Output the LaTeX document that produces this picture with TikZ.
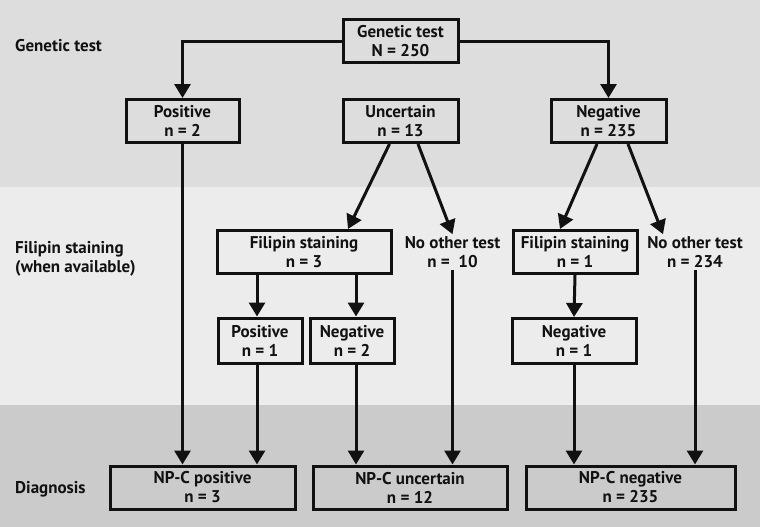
\documentclass[tikz,border=0pt]{standalone}
\usepackage{fontspec}
\setmainfont{PT Sans}
\usetikzlibrary{arrows.meta}
\definecolor{bandtop}{HTML}{DDDDDD}
\definecolor{bandmid}{HTML}{ECECEC}
\definecolor{bandlow}{HTML}{CBCBCB}
\definecolor{ink}{HTML}{111111}
\tikzset{txt/.style={font=\bfseries\fontsize{17}{19}\selectfont, text=ink}}
\tikzset{box/.style={txt, draw=ink, line width=3pt, align=center, minimum height=43pt, inner sep=1pt}}
\tikzset{loose/.style={txt, align=center, inner sep=2pt}}
\tikzset{rowlabel/.style={txt, anchor=west, align=left, inner sep=0pt}}
\tikzset{flow/.style={draw=ink, line width=3pt, -{Triangle[length=14pt,width=16pt]}}}
\begin{document}
\begin{tikzpicture}[x=1pt, y=-1pt]
  % background bands
  \fill[bandtop] (0,0) rectangle (760,187);
  \fill[bandmid] (0,187) rectangle (760,405);
  \fill[bandlow] (0,405) rectangle (760,527);
  \useasboundingbox (0,0) rectangle (760,527);
  % row labels
  \node[rowlabel] (lgen) at (15,46) {Genetic test};
  \node[rowlabel] (lfil) at (15,259) {Filipin staining\\(when available)};
  \node[rowlabel] (ldia) at (15,489) {Diagnosis};
  % genetic test
  \node[box, minimum width=115pt] (gen) at (400.5,41.5) {Genetic test\\N = 250};
  \node[box, minimum width=113pt] (pos) at (182.5,121) {Positive\\n = 2};
  \node[box, minimum width=115pt] (unc) at (400.5,121) {Uncertain\\n = 13};
  \node[box, minimum width=115pt] (neg) at (608.5,121) {Negative\\n = 235};
  % filipin staining
  \node[box, minimum width=174pt] (filA) at (304,252) {Filipin staining\\n = 3};
  \node[loose] (othA) at (452.5,252) {No other test\\n =\ \ 10};
  \node[box, minimum width=124pt] (filB) at (575,252) {Filipin staining\\n = 1};
  \node[loose] (othB) at (695,252) {No other test\\n = 234};
  \node[box, minimum width=84pt, minimum height=45pt] (posA) at (260,340.5) {Positive\\n = 1};
  \node[box, minimum width=84pt, minimum height=45pt] (negA) at (352,340.5) {Negative\\n = 2};
  \node[box, minimum width=124pt, minimum height=45pt] (negB) at (574,341) {Negative\\n = 1};
  % diagnosis
  \node[box, minimum width=185pt] (dpos) at (202.5,487.5) {NP-C positive\\n = 3};
  \node[box, minimum width=194pt] (dunc) at (410,487.5) {NP-C uncertain\\n = 12};
  \node[box, minimum width=209pt] (dneg) at (630.5,487.5) {NP-C negative\\n = 235};
  % connectors
  \draw[flow] (gen.west) -| (pos.north);
  \draw[flow] (gen.east) -| (neg.north);
  \draw[flow] ([xshift=-11pt]unc.south) -- ([xshift=44pt]filA.north);
  \draw[flow] ([xshift=17.5pt]unc.south) -- (othA.north);
  \draw[flow] ([xshift=-11.5pt]neg.south) -- ([xshift=-15pt]filB.north);
  \draw[flow] ([xshift=19.5pt]neg.south) -- ([xshift=-32pt]othB.north);
  \draw[flow] ([xshift=-47pt]filA.south) -- ([xshift=-3pt]posA.north);
  \draw[flow] ([xshift=52pt]filA.south) -- ([xshift=4pt]negA.north);
  \draw[flow] (filB.south) -- (negB.north);
  \draw[flow] (pos.south) -- (pos.south |- dpos.north);
  \draw[flow] ([xshift=-3pt]posA.south) -- ([xshift=-3pt]posA.south |- dpos.north);
  \draw[flow] ([xshift=4pt]negA.south) -- ([xshift=4pt]negA.south |- dunc.north);
  \draw[flow] (othA.south) -- (othA.south |- dunc.north);
  \draw[flow] (negB.south) -- (negB.south |- dneg.north);
  \draw[flow] (othB.south) -- (othB.south |- dneg.north);
\end{tikzpicture}
\end{document}
